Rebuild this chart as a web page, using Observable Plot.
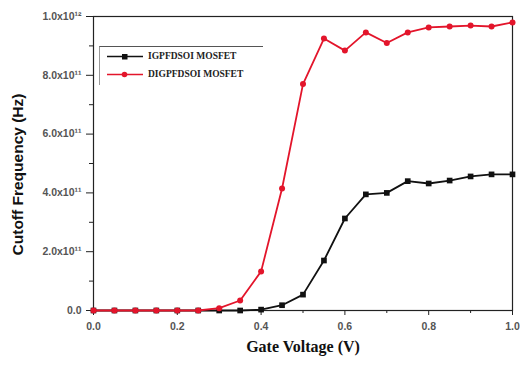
<!DOCTYPE html>
<html>
<head>
<meta charset="utf-8">
<script src="https://cdn.jsdelivr.net/npm/d3@7"></script>
<script src="https://cdn.jsdelivr.net/npm/@observablehq/plot@0.6"></script>
<style>
  html, body { margin: 0; padding: 0; background: #fff; }
  #wrap { position: relative; width: 521px; height: 365px; }
  #legend { position: absolute; left: 99px; top: 46px; width: 163px; height: 38px;
            border-top: 1px solid #555; border-left: 1px solid #999;
            font-family: "Liberation Serif", "DejaVu Serif", serif; font-weight: bold; font-size: 9.5px; color: #222; }
  .item { position: absolute; left: 7px; display: flex; align-items: center; }
  .item span { margin-left: 5px; }
</style>
</head>
<body>
<div id="wrap"></div>
<script>
const volts = [0, 0.05, 0.1, 0.15, 0.2, 0.25, 0.3, 0.35, 0.4, 0.45, 0.5, 0.55, 0.6, 0.65, 0.7, 0.75, 0.8, 0.85, 0.9, 0.95, 1.0];
const igpfdsoi = [0, 0, 0, 0, 0, 0, 0, 0, 0.003e12, 0.018e12, 0.054e12, 0.17e12, 0.313e12, 0.395e12, 0.40e12, 0.44e12, 0.432e12, 0.442e12, 0.456e12, 0.463e12, 0.463e12];
const digpfdsoi = [0, 0, 0, 0, 0, 0, 0.008e12, 0.034e12, 0.133e12, 0.415e12, 0.77e12, 0.925e12, 0.884e12, 0.946e12, 0.91e12, 0.946e12, 0.963e12, 0.966e12, 0.969e12, 0.966e12, 0.98e12];
const seriesNames = ["IGPFDSOI MOSFET", "DIGPFDSOI MOSFET"];
const seriesColors = ["#111111", "#e3152b"];
const xMajor = [0, 0.2, 0.4, 0.6, 0.8, 1.0];
const xMinor = [0.1, 0.3, 0.5, 0.7, 0.9];
const yMajor = [0, 2e11, 4e11, 6e11, 8e11, 1e12];
const yMinor = [1e11, 3e11, 5e11, 7e11, 9e11];
const yTickLabels = ["0.0", "2.0x10\u00B9\u00B9", "4.0x10\u00B9\u00B9", "6.0x10\u00B9\u00B9", "8.0x10\u00B9\u00B9", "1.0x10\u00B9\u00B2"];
const xTitle = "Gate Voltage (V)";
const yTitle = "Cutoff Frequency (Hz)";

const rows = [];
volts.forEach((v, i) => {
  rows.push({v, f: igpfdsoi[i], s: seriesNames[0]});
  rows.push({v, f: digpfdsoi[i], s: seriesNames[1]});
});
const black = rows.filter(d => d.s === seriesNames[0]);
const red = rows.filter(d => d.s === seriesNames[1]);

const sans = "Liberation Sans, Arial, sans-serif";
const serif = "Liberation Serif, Times New Roman, serif";

const chart = Plot.plot({
  width: 521,
  height: 365,
  marginLeft: 93,
  marginRight: 9,
  marginTop: 16,
  marginBottom: 55,
  style: {background: "white", color: "#555"},
  x: {domain: [0, 1]},
  y: {domain: [0, 1e12]},
  marks: [
    Plot.axisX({ticks: xMajor, tickFormat: d => d.toFixed(1), tickSize: 5, tickPadding: 7, label: null, stroke: "#222",
      fontFamily: sans, fontSize: 10.5, fontWeight: "bold", fill: "#555"}),
    Plot.axisX({ticks: xMinor, tickFormat: () => "", tickSize: 3, label: null, stroke: "#222"}),
    Plot.text([xTitle], {frameAnchor: "bottom", dy: 41, text: d => d, fontFamily: serif, fontSize: 16, fontWeight: "bold", fill: "#111"}),
    Plot.axisY({ticks: yMajor, tickFormat: d => yTickLabels[yMajor.indexOf(d)], tickSize: 7, tickPadding: 5, label: null, stroke: "#222",
      fontFamily: sans, fontSize: 10.5, fontWeight: "bold", fill: "#555"}),
    Plot.axisY({ticks: yMinor, tickFormat: () => "", tickSize: 4, label: null, stroke: "#222"}),
    Plot.text([yTitle], {frameAnchor: "left", textAnchor: "middle", dx: -75, dy: 11, rotate: -90, text: d => d, fontFamily: sans, fontSize: 15.5, fontWeight: "bold", fill: "#111"}),
    Plot.frame({stroke: "#222", strokeWidth: 1.2}),
    Plot.line(black, {x: "v", y: "f", stroke: seriesColors[0], strokeWidth: 1.8}),
    Plot.dot(black, {x: "v", y: "f", symbol: "square", r: 3.2, fill: seriesColors[0]}),
    Plot.line(red, {x: "v", y: "f", stroke: seriesColors[1], strokeWidth: 1.8}),
    Plot.dot(red, {x: "v", y: "f", symbol: "circle", r: 3, fill: seriesColors[1]})
  ]
});
const wrap = document.getElementById("wrap");
wrap.appendChild(chart);

// legend overlay
const legend = document.createElement("div");
legend.id = "legend";
seriesNames.forEach((name, i) => {
  const item = document.createElement("div");
  item.className = "item";
  item.style.top = (i === 0 ? 4 : 22) + "px";
  const shape = i === 0
    ? `<rect x="15" y="2" width="5.5" height="5.5" fill="${seriesColors[i]}"/>`
    : `<circle cx="17.5" cy="4.5" r="2.8" fill="${seriesColors[i]}"/>`;
  item.innerHTML = `<svg width="36" height="9"><line x1="0" y1="4.5" x2="36" y2="4.5" stroke="${seriesColors[i]}" stroke-width="1.6"/>${shape}</svg><span>${name}</span>`;
  legend.appendChild(item);
});
wrap.appendChild(legend);
</script>
</body>
</html>
